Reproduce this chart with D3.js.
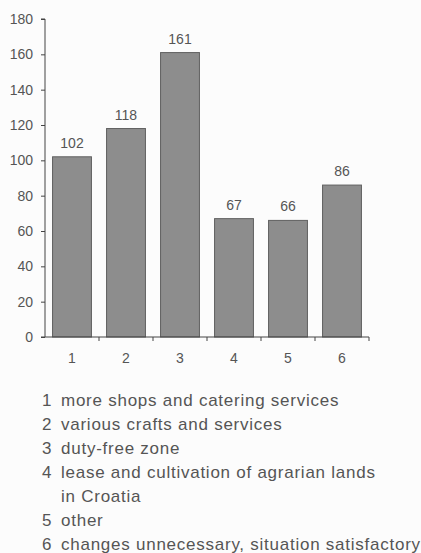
<!DOCTYPE html>
<html><head><meta charset="utf-8">
<script src="https://cdn.jsdelivr.net/npm/d3@7"></script>
<style>body{margin:0;background:#fcfcfc;} svg{display:block;font-family:"Liberation Sans",Arial,sans-serif;}</style>
</head><body><div id="chart"></div>
<script>
const categories = ["1","2","3","4","5","6"];
const values = [102,118,161,67,66,86];
const yTicks = [0,20,40,60,80,100,120,140,160,180];
const legendItems = [
  ["1","more shops and catering services"],
  ["2","various crafts and services"],
  ["3","duty-free zone"],
  ["4","lease and cultivation of agrarian lands"],
  ["","in Croatia"],
  ["5","other"],
  ["6","changes unnecessary, situation satisfactory"]
];

const W=421,H=553;
const svg=d3.select("#chart").append("svg").attr("width",W).attr("height",H);
const x=d3.scaleBand().domain(categories).range([45,369]).paddingInner(0.28).paddingOuter(0.14);
const y=d3.scaleLinear().domain([0,180]).range([337,19]);
const textCol="#555";
const ff="Liberation Sans, Arial, sans-serif";

// bars
svg.selectAll("rect.bar").data(values).enter().append("rect")
  .attr("x",(d,i)=>x(categories[i])).attr("y",d=>y(d))
  .attr("width",x.bandwidth()).attr("height",d=>y(0)-y(d))
  .attr("fill","#8d8d8d").attr("stroke","#606060").attr("stroke-width",1);

// value labels
svg.selectAll("text.val").data(values).enter().append("text")
  .attr("x",(d,i)=>x(categories[i])+x.bandwidth()/2).attr("y",d=>y(d)-9)
  .attr("text-anchor","middle").style("font-size","14px").attr("fill",textCol).text(d=>d);

// y axis
const yAxis=d3.axisLeft(y).tickValues(yTicks).tickSize(4).tickPadding(8);
const gy=svg.append("g").attr("transform","translate(45,0)").call(yAxis);
gy.select(".domain").attr("stroke","#444").attr("d","M-4,"+y(180)+"H0V"+y(0));
gy.selectAll(".tick line").attr("stroke","#444");
gy.selectAll(".tick text").style("font-size","14px").attr("fill",textCol).style("font-family",ff);

// x axis
const gx=svg.append("g").attr("transform","translate(0,"+y(0)+")");
gx.append("line").attr("x1",41).attr("x2",369).attr("y1",0).attr("y2",0).attr("stroke","#444");
const bounds=categories.map(c=>x(c)+x.bandwidth()+x.step()*x.paddingInner()/2);
gx.selectAll("line.tk").data(bounds).enter().append("line")
  .attr("x1",d=>d).attr("x2",d=>d).attr("y1",0).attr("y2",4).attr("stroke","#444");
gx.selectAll("text.cat").data(categories).enter().append("text")
  .attr("x",d=>x(d)+x.bandwidth()/2).attr("y",26).attr("text-anchor","middle")
  .style("font-size","14px").attr("fill",textCol).text(d=>d);

// legend
const lg=svg.append("g");
legendItems.forEach((it,i)=>{
  const yy=406+i*24;
  lg.append("text").attr("x",42).attr("y",yy).style("font-size","17px").attr("fill",textCol).text(it[0]);
  lg.append("text").attr("x",61).attr("y",yy).style("font-size","17px").attr("letter-spacing",0.75).attr("fill",textCol).text(it[1]);
});
</script></body></html>
